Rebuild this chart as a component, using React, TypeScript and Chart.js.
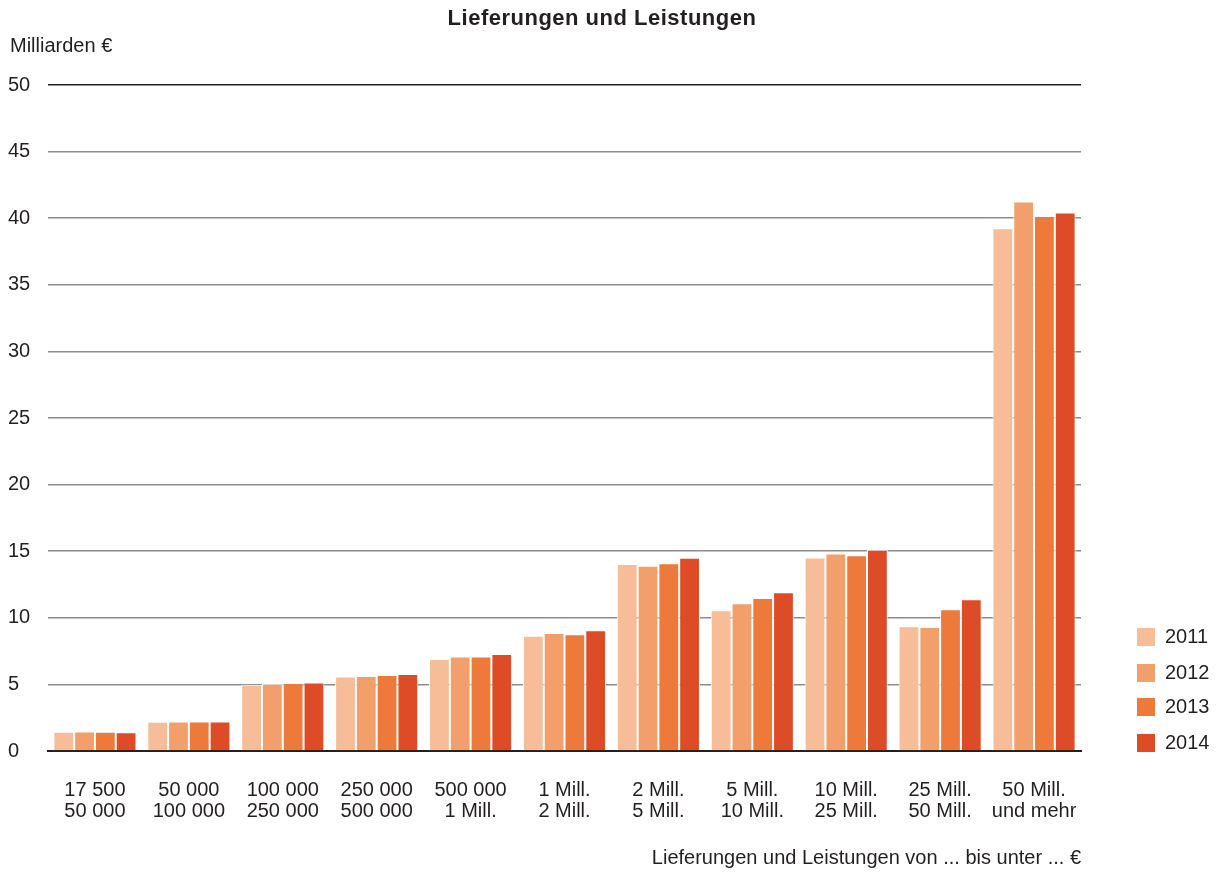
import React, { useEffect, useRef } from "react";
import { Chart, registerables } from "chart.js";

Chart.register(...registerables);

const categories: string[][] = [
  ["17 500", "50 000"],
  ["50 000", "100 000"],
  ["100 000", "250 000"],
  ["250 000", "500 000"],
  ["500 000", "1 Mill."],
  ["1 Mill.", "2 Mill."],
  ["2 Mill.", "5 Mill."],
  ["5 Mill.", "10 Mill."],
  ["10 Mill.", "25 Mill."],
  ["25 Mill.", "50 Mill."],
  ["50 Mill.", "und mehr"],
];

const years = ["2011", "2012", "2013", "2014"];
const values2011 = [1.45, 2.2, 4.97, 5.6, 6.9, 8.66, 14.04, 10.56, 14.53, 9.36, 39.25];
const values2012 = [1.47, 2.22, 5.05, 5.63, 7.1, 8.86, 13.9, 11.09, 14.83, 9.31, 41.25];
const values2013 = [1.45, 2.22, 5.1, 5.7, 7.1, 8.76, 14.1, 11.49, 14.7, 10.64, 40.17];
const values2014 = [1.4, 2.22, 5.15, 5.78, 7.28, 9.06, 14.5, 11.91, 15.1, 11.39, 40.42];
const colors = ["#f6bd98", "#f29f6b", "#ed793b", "#dd4b27"];

const chartTitle = "Lieferungen und Leistungen";
const yUnit = "Milliarden €";
const xTitle = "Lieferungen und Leistungen von ... bis unter ... €";

const FONT = '"Liberation Sans", Arial, sans-serif';
const TEXT = "#231f20";

export default function App() {
  const ref = useRef<HTMLCanvasElement | null>(null);

  useEffect(() => {
    if (!ref.current) return;
    const series = [values2011, values2012, values2013, values2014];

    const extras = {
      id: "extras",
      afterDraw(chart: any) {
        const ctx = chart.ctx;
        const area = chart.chartArea;
        ctx.save();
        ctx.fillStyle = TEXT;
        ctx.textBaseline = "middle";
        ctx.font = `bold 22px ${FONT}`;
        ctx.textAlign = "center";
        try { (ctx as any).letterSpacing = "0.5px"; } catch (e) {}
        ctx.fillText(chartTitle, 602, 19);
        try { (ctx as any).letterSpacing = "0px"; } catch (e) {}
        ctx.font = `20px ${FONT}`;
        ctx.textAlign = "left";
        ctx.fillText(yUnit, 10, 46);
        // legend
        const offsets = [114, 78, 44, 8];
        chart.data.datasets.forEach((ds: any, i: number) => {
          const cy = area.bottom - offsets[i];
          ctx.fillStyle = ds.backgroundColor;
          ctx.fillRect(area.right + 56, cy - 9, 18, 18);
          ctx.fillStyle = TEXT;
          ctx.font = `20px ${FONT}`;
          ctx.fillText(ds.label, area.right + 84, cy);
        });
        ctx.restore();
      },
    };

    const chart = new Chart(ref.current, {
      type: "bar",
      data: {
        labels: categories,
        datasets: years.map((y, i) => ({
          label: y,
          data: series[i],
          backgroundColor: colors[i],
          borderColor: "#ffffff",
          borderWidth: 1,
          borderSkipped: "start",
          categoryPercentage: 0.885,
          barPercentage: 1,
        })),
      },
      options: {
        responsive: false,
        animation: false,
        layout: { padding: { left: 8, right: 140, top: 85, bottom: 3 } },
        plugins: {
          legend: { display: false },
          title: { display: false },
          tooltip: { enabled: false },
        },
        scales: {
          x: {
            z: 1,
            afterFit: (s: any) => { s.height = 119; },
            grid: { display: false, drawTicks: false },
            border: { display: true, color: TEXT, width: 2 },
            ticks: {
              color: TEXT,
              font: { family: FONT, size: 20, lineHeight: 1.05 },
              padding: 29,
              maxRotation: 0,
              autoSkip: false,
            },
            title: {
              display: true,
              text: xTitle,
              align: "end",
              color: TEXT,
              font: { family: FONT, size: 20, lineHeight: 1.2 },
              padding: { top: 24, bottom: 0 },
            },
          },
          y: {
            min: 0,
            max: 50,
            afterFit: (s: any) => { s.width = 40; },
            border: { display: false },
            grid: {
              drawTicks: false,
              color: (c: any) => (c.tick && (c.tick.value === 50 || c.tick.value === 0) ? TEXT : "#8c8c8c"),
              lineWidth: 1.5,
            },
            ticks: {
              stepSize: 5,
              color: TEXT,
              font: { family: FONT, size: 20 },
              crossAlign: "far",
              padding: 18,
            },
          },
        },
      },
      plugins: [extras],
    } as any);

    return () => chart.destroy();
  }, []);

  return (
    <div style={{ position: "fixed", left: 0, top: 0, width: 1221, height: 873, background: "#fff" }}>
      <canvas ref={ref} width={1221} height={873} style={{ display: "block" }} />
    </div>
  );
}
